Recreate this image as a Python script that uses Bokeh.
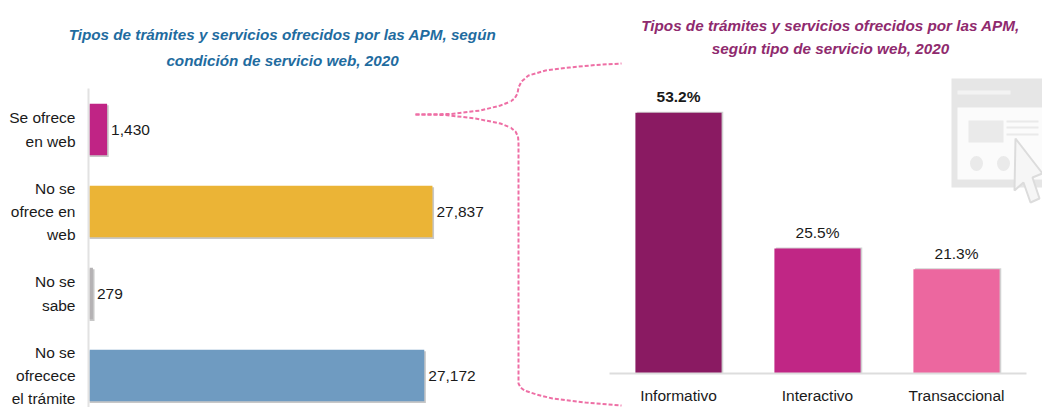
from bokeh.plotting import figure
from bokeh.layouts import row
from bokeh.models import Range1d, FixedTicker, ColumnDataSource
from bokeh.core.properties import value
from bokeh.embed import file_html
from bokeh.resources import INLINE

# ---- data
left_categories = ["Se ofrece\nen web", "No se\nofrece en\nweb", "No se\nsabe", "No se\nofrecece\nel trámite"]
left_values = [1430, 27837, 279, 27172]
left_labels = ["1,430", "27,837", "279", "27,172"]
left_colors = ["#C02485", "#EBB436", "#B5B2B4", "#6F9BC1"]
left_title = ["Tipos de trámites y servicios ofrecidos por las APM, según", "condición de servicio web, 2020"]

right_categories = ["Informativo", "Interactivo", "Transaccional"]
right_values = [53.2, 25.5, 21.3]
right_labels = ["53.2%", "25.5%", "21.3%"]
right_colors = ["#8A1A62", "#C02685", "#EC679F"]
right_title = ["Tipos de trámites y servicios ofrecidos por las APM,", "según tipo de servicio web, 2020"]

FONT = "Liberation Sans"
INK = "#1a1a1a"
PINK = "#EE6FA5"
DASH = "4 2"
H = 407
LABEL = "15.5px"
TITLE = "15.25px"

# ---- left chart
lx = 0.01232   # px per unit
left = figure(width=510, height=H, output_backend="svg", toolbar_location=None,
              x_range=Range1d(-89 / lx, (510 - 89) / lx), y_range=Range1d((H - 129) / 82, -129 / 82),
              min_border_left=0, min_border_top=0, min_border_right=0, min_border_bottom=0,
              x_axis_location=None, outline_line_color=None)
left.grid.visible = False
left.extra_x_ranges["px"] = Range1d(0, 510)
left.extra_y_ranges["px"] = Range1d(H, 0)
ax = left.yaxis[0]
ax.fixed_location = -1 / lx
ax.bounds = (-0.5, (H - 129) / 82)
ax.ticker = FixedTicker(ticks=list(range(len(left_categories))))
ax.major_label_overrides = {i: c for i, c in enumerate(left_categories)}
ax.major_tick_line_color = None
ax.minor_tick_line_color = None
ax.axis_line_color = "#E2E2E2"
ax.axis_line_width = 2
ax.major_label_standoff = 7
ax.major_label_text_font = FONT
ax.major_label_text_font_size = LABEL
ax.major_label_text_line_height = 1.36
ax.major_label_text_color = INK

ys = list(range(len(left_values)))
left.hbar(y=[y + 0.02 for y in ys], left=0, right=[v + 130 for v in left_values], height=0.63,
          fill_color="#000000", fill_alpha=0.22, line_color=None)
left.hbar(y=ys, left=0, right=left_values, height=0.63, fill_color=left_colors, line_color=None)
left.text(x=left_values, y=ys, text=left_labels, x_offset=4, text_baseline="middle",
          text_font=value(FONT), text_font_size=LABEL, text_color=INK)
left.line([415, 450, 480, 500, 510], [114, 113.5, 110, 105, 101], x_range_name="px", y_range_name="px",
          line_color=PINK, line_width=2, line_dash=DASH)
left.line([415, 445, 475, 500, 510], [114, 114.5, 118, 123, 127], x_range_name="px", y_range_name="px",
          line_color=PINK, line_width=2, line_dash=DASH)
left.text(x=[282, 282], y=[34, 60], text=left_title, x_range_name="px", y_range_name="px",
          text_align="center", text_baseline="middle", text_font=value(FONT),
          text_font_size=TITLE, text_font_style="bold italic", text_color="#1F6C9F")

# ---- right chart
rx = 139.0     # px per category
ry = 4.9       # px per percentage point
right = figure(width=532, height=H, output_backend="svg", toolbar_location=None,
               x_range=Range1d((510 - 678) / rx, (1042 - 678) / rx),
               y_range=Range1d(-(H - 373) / ry, 373 / ry),
               min_border_left=0, min_border_top=0, min_border_right=0, min_border_bottom=0,
               y_axis_location=None, outline_line_color=None)
right.grid.visible = False
right.extra_x_ranges["px"] = Range1d(510, 1042)
right.extra_y_ranges["px"] = Range1d(H, 0)
a2 = right.xaxis[0]
a2.fixed_location = 0
a2.bounds = (-0.5, 2.5)
a2.ticker = FixedTicker(ticks=list(range(len(right_categories))))
a2.major_label_overrides = {i: c for i, c in enumerate(right_categories)}
a2.major_tick_line_color = None
a2.minor_tick_line_color = None
a2.axis_line_color = "#DDDDDD"
a2.axis_line_width = 2
a2.major_label_standoff = 7
a2.major_label_text_font = FONT
a2.major_label_text_font_size = LABEL
a2.major_label_text_color = INK

xs = list(range(len(right_values)))
# web window icon
g = "#E6E6E6"
def box(x0, x1, y0, y1, c):
    right.quad(left=x0, right=x1, top=y0, bottom=y1, fill_color=c, line_color=None,
               x_range_name="px", y_range_name="px")
box(951, 1042, 78, 187, g)
box(957, 1042, 107, 179, "#FBFBFB")
box(957, 1010, 90, 94, "#F3F3F3")
box(968, 1003, 120, 142, "#EAEAEA")
for y in (120, 126, 133):
    box(1006, 1038, y, y + 2, "#EAEAEA")
right.ellipse(x=[976, 1003], y=[163, 163], width=13, height=15, fill_color="#EAEAEA", line_color=None,
              x_range_name="px", y_range_name="px")
right.patch([1015, 1042, 1032, 1039, 1030, 1023, 1014], [138, 173, 177, 198, 202, 182, 190],
            fill_color="#F6F6F6", line_color="#DCDCDC", line_width=2,
            x_range_name="px", y_range_name="px")

right.vbar(x=[x + 0.012 for x in xs], bottom=0, top=[v + 0.2 for v in right_values], width=0.62,
           fill_color="#000000", fill_alpha=0.18, line_color=None)
right.vbar(x=xs, bottom=0, top=right_values, width=0.62, fill_color=right_colors, line_color=None)
src = ColumnDataSource(dict(x=xs, y=right_values, t=right_labels, s=["bold", "normal", "normal"]))
right.text(x="x", y="y", text="t", source=src, y_offset=-16, text_align="center", text_baseline="middle",
           text_font=value(FONT), text_font_size=LABEL, text_font_style="s", text_color=INK)
right.line([510, 514, 517, 518, 521, 528, 545, 569, 595, 621], [101, 98, 93, 87, 81, 75, 70, 67, 64.5, 63],
           x_range_name="px", y_range_name="px", line_color=PINK, line_width=2, line_dash=DASH)
right.line([510, 515, 517.5, 518, 518, 520, 524, 536, 552, 585, 621],
           [127, 131, 136, 142, 383, 387, 390, 394, 398, 402, 405], x_range_name="px",
           y_range_name="px", line_color=PINK, line_width=2, line_dash=DASH)
right.text(x=[830, 830], y=[25, 48], text=right_title, x_range_name="px", y_range_name="px",
           text_align="center", text_baseline="middle", text_font=value(FONT),
           text_font_size=TITLE, text_font_style="bold italic", text_color="#8F2A6E")

p = row(left, right)
open("out.html", "w").write(file_html(p, INLINE))
